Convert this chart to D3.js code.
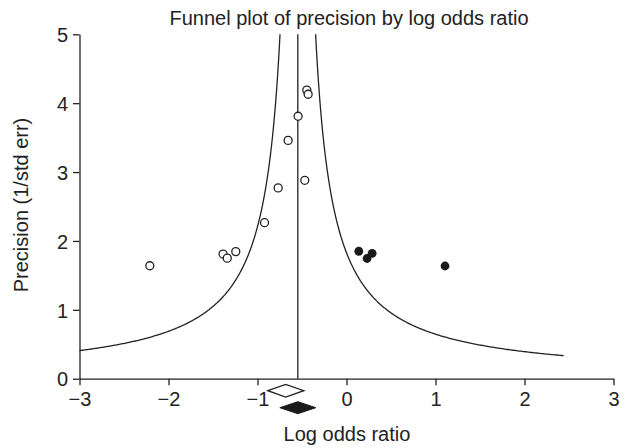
<!DOCTYPE html>
<html>
<head>
<meta charset="utf-8">
<script src="https://cdn.jsdelivr.net/npm/d3@7"></script>
<style>
  html, body { margin: 0; padding: 0; background: #fff; }
  svg { display: block; }
  text { font-family: "Liberation Sans", Arial, sans-serif; fill: #222; }
</style>
</head>
<body>
<svg id="chart" width="630" height="448"></svg>
<script>
// ---- data ----
const xTicks = [-3, -2, -1, 0, 1, 2, 3];
const yTicks = [0, 1, 2, 3, 4, 5];

// observed studies (open circles): log odds ratio, precision
const observedLogOR = [-2.21, -1.387, -1.34, -1.244, -0.921, -0.768, -0.656, -0.544, -0.469, -0.446, -0.431];
const observedPrec  = [1.64, 1.81, 1.75, 1.845, 2.265, 2.77, 3.46, 3.81, 2.88, 4.19, 4.13];

// imputed studies (filled circles)
const imputedLogOR = [0.138, 0.231, 0.288, 1.107];
const imputedPrec  = [1.85, 1.745, 1.82, 1.636];

// summary estimates: [point, lower, upper]
const observedSummary = [-0.683, -0.884, -0.48];
const adjustedSummary = [-0.547, -0.749, -0.345];

// funnel: centre line and half-width constant (x = centre ± k / precision)
const funnelCentre = -0.547;
const funnelK = 1.0;
const funnelRightEnd = 2.44;

const titleText = "Funnel plot of precision by log odds ratio";
const xLabel = "Log odds ratio";
const yLabel = "Precision (1/std err)";

// ---- layout ----
const svg = d3.select("#chart");
const x = d3.scaleLinear().domain([-3, 3]).range([79.5, 613.5]);
const y = d3.scaleLinear().domain([0, 5]).range([378.7, 34.3]);
const ink = "#222";
const fmt = d3.format("d");

// axes
const xAxis = d3.axisBottom(x).tickValues(xTicks).tickFormat(fmt).tickSize(6.5).tickPadding(6).tickSizeOuter(0);
const yAxis = d3.axisLeft(y).tickValues(yTicks).tickFormat(fmt).tickSize(6.5).tickPadding(5).tickSizeOuter(0);

const gx = svg.append("g").attr("transform", `translate(0,${y(0)})`).call(xAxis);
const gy = svg.append("g").attr("transform", `translate(${x(-3)},0)`).call(yAxis);
[gx, gy].forEach(g => {
  g.select(".domain").attr("stroke", ink).attr("stroke-width", 1.3);
  g.selectAll(".tick line").attr("stroke", ink).attr("stroke-width", 1.3);
  g.selectAll(".tick text").attr("font-size", 20).attr("font-family", "Liberation Sans, Arial, sans-serif").attr("fill", ink);
});
gy.selectAll(".tick text").attr("dy", "0.36em");
gx.selectAll(".tick text").attr("dy", "0.72em");

// funnel curves
const line = d3.line().x(d => x(d[0])).y(d => y(d[1]));
const pLeftMin = funnelK / (funnelCentre + 3);
const pRightMin = funnelK / (funnelRightEnd - funnelCentre);
const leftPts = [], rightPts = [];
for (let i = 0; i <= 400; i++) {
  const p = pLeftMin * Math.pow(5 / pLeftMin, i / 400);
  leftPts.push([funnelCentre - funnelK / p, p]);
  const q = pRightMin * Math.pow(5 / pRightMin, i / 400);
  rightPts.push([funnelCentre + funnelK / q, q]);
}
svg.append("path").attr("d", line(leftPts)).attr("fill", "none").attr("stroke", ink).attr("stroke-width", 1.3);
svg.append("path").attr("d", line(rightPts)).attr("fill", "none").attr("stroke", ink).attr("stroke-width", 1.3);

// centre line
svg.append("line")
  .attr("x1", x(funnelCentre)).attr("x2", x(funnelCentre))
  .attr("y1", y(5)).attr("y2", y(0))
  .attr("stroke", ink).attr("stroke-width", 1.3);

// observed points
const obs = observedLogOR.map((v, i) => [v, observedPrec[i]]);
svg.append("g").selectAll("circle").data(obs).join("circle")
  .attr("cx", d => x(d[0])).attr("cy", d => y(d[1])).attr("r", 4)
  .attr("fill", "#fff").attr("stroke", ink).attr("stroke-width", 1.3);

// imputed points
const imp = imputedLogOR.map((v, i) => [v, imputedPrec[i]]);
svg.append("g").selectAll("circle").data(imp).join("circle")
  .attr("cx", d => x(d[0])).attr("cy", d => y(d[1])).attr("r", 4.4)
  .attr("fill", "#1a1a1a");

// summary diamonds
function diamond(s, cy, h) {
  return `M${x(s[1])},${cy} L${x(s[0])},${cy - h} L${x(s[2])},${cy} L${x(s[0])},${cy + h} Z`;
}
svg.append("path").attr("d", diamond(observedSummary, 390.7, 6.3))
  .attr("fill", "#fff").attr("stroke", ink).attr("stroke-width", 1.3);
svg.append("path").attr("d", diamond(adjustedSummary, 407.7, 6))
  .attr("fill", "#1a1a1a").attr("stroke", "#1a1a1a").attr("stroke-width", 1);

// title and labels
svg.append("text").attr("x", 349).attr("y", 25).attr("text-anchor", "middle")
  .attr("font-size", 20).text(titleText);
svg.append("text").attr("x", 347).attr("y", 441).attr("text-anchor", "middle")
  .attr("font-size", 20).text(xLabel);
svg.append("text").attr("transform", "translate(28,205) rotate(-90)").attr("text-anchor", "middle")
  .attr("font-size", 20).text(yLabel);
</script>
</body>
</html>
